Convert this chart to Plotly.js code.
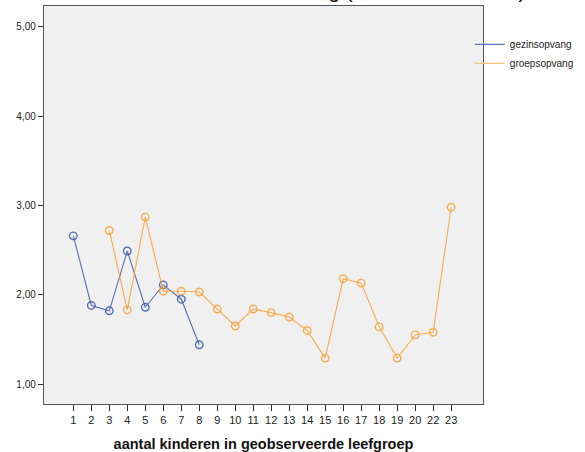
<!DOCTYPE html>
<html>
<head>
<meta charset="utf-8">
<script src="https://cdn.plot.ly/plotly-3.0.1.min.js"></script>
<style>html,body{margin:0;padding:0;background:#fff;overflow:hidden;}#chart{width:600px;height:452px;}</style>
</head>
<body>
<div id="chart"></div>
<script>
const categories = ['1','2','3','4','5','6','7','8','9','10','11','12','13','14','15','16','17','18','19','20','22','23'];
const gezinsX = ['1','2','3','4','5','6','7','8'];
const gezinsY = [2.66, 1.88, 1.82, 2.49, 1.86, 2.11, 1.95, 1.44];
const groepsX = ['3','4','5','6','7','8','9','10','11','12','13','14','15','16','17','18','19','20','22','23'];
const groepsY = [2.72, 1.83, 2.87, 2.04, 2.04, 2.03, 1.84, 1.65, 1.84, 1.80, 1.75, 1.60, 1.29, 2.18, 2.13, 1.64, 1.29, 1.55, 1.58, 2.98];
const yTicks = [1, 2, 3, 4, 5];
const seriesNames = ['gezinsopvang', 'groepsopvang'];
const titleText = 'Gemiddelde score naar omvang (Emotionele Steun)';
const xTitle = 'aantal kinderen in geobserveerde leefgroep';

const blue = 'rgba(62,88,172,0.85)';
const orange = 'rgba(247,160,51,0.85)';

const traces = [
  {x: gezinsX, y: gezinsY, type: 'scatter', mode: 'lines+markers', name: seriesNames[0],
   showlegend: false, legendgroup: 'a',
   line: {color: blue, width: 1.1},
   marker: {symbol: 'circle-open', size: 7.5, color: blue, line: {width: 1.4}}},
  {x: groepsX, y: groepsY, type: 'scatter', mode: 'lines+markers', name: seriesNames[1],
   showlegend: false, legendgroup: 'b',
   line: {color: orange, width: 1.1},
   marker: {symbol: 'circle-open', size: 7.5, color: orange, line: {width: 1.4}}},
  {x: [null], y: [null], type: 'scatter', mode: 'lines', name: seriesNames[0], legendgroup: 'a',
   line: {color: '#5b73c4', width: 1.2}},
  {x: [null], y: [null], type: 'scatter', mode: 'lines', name: seriesNames[1], legendgroup: 'b',
   line: {color: '#fbc07a', width: 1.2}}
];

const layout = {
  width: 600, height: 452,
  margin: {l: 44, r: 117, t: 6, b: 48, pad: 0},
  paper_bgcolor: '#ffffff',
  plot_bgcolor: '#f0f0f0',
  separators: ',.',
  font: {family: 'Liberation Sans, Arial, sans-serif', size: 10, color: '#222'},
  showlegend: true,
  legend: {x: 0.97, xanchor: 'left', y: 0.94, yanchor: 'top',
           bgcolor: 'rgba(0,0,0,0)', borderwidth: 0,
           font: {size: 10, color: '#222'}, itemwidth: 30, tracegroupgap: 0},
  xaxis: {
    type: 'category', categoryorder: 'array', categoryarray: categories,
    range: [-1.63, 22.77],
    showgrid: false, zeroline: false,
    showline: true, linecolor: '#555', linewidth: 1.2, mirror: true,
    ticks: 'outside', ticklen: 6, tickwidth: 1, tickcolor: '#333',
    tickfont: {size: 11, color: '#222'},
    title: {text: '<b>' + xTitle + '</b>', font: {size: 14.5, color: '#111'}, standoff: 16}
  },
  yaxis: {
    range: [0.776, 5.235],
    tickvals: yTicks, tickformat: '.2f',
    showgrid: false, zeroline: false,
    showline: true, linecolor: '#555', linewidth: 1.2, mirror: true,
    ticks: 'outside', ticklen: 5, tickwidth: 1, tickcolor: '#333',
    tickfont: {size: 10, color: '#222'}
  },
  annotations: [{
    text: titleText, xref: 'paper', yref: 'paper', x: 0.544, y: 1.0, xanchor: 'center', yanchor: 'bottom',
    yshift: 2, showarrow: false, font: {size: 21, color: '#111'}
  }]
};

Plotly.newPlot('chart', traces, layout, {displayModeBar: false, staticPlot: true});
</script>
</body>
</html>
